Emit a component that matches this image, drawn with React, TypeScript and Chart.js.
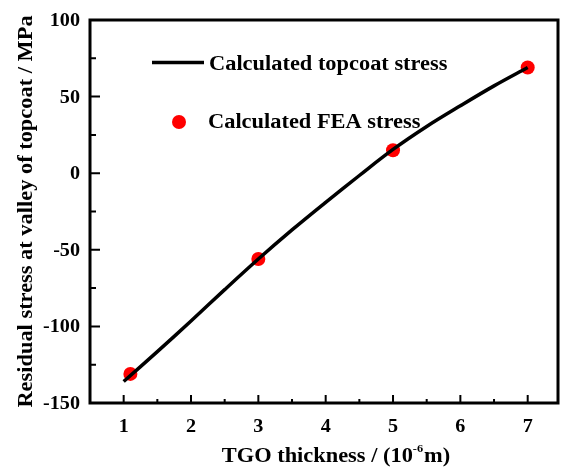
import React, { useEffect, useRef } from "react";
import { Chart, registerables } from "chart.js";

Chart.register(...registerables);

const curveX = [1, 1.5, 2, 2.5, 3, 3.5, 4, 4.5, 5, 5.5, 6, 6.5, 7];
const curveY = [-136, -116.5, -96.5, -76, -56, -37, -19, -1.5, 15.5, 30.5, 44, 57, 69];
const feaX = [1.1, 3, 5, 7];
const feaY = [-131, -56, 15, 69];
const xTicks = [1, 2, 3, 4, 5, 6, 7];
const yTicks = [-150, -100, -50, 0, 50, 100];
const xTickLabels = ["1", "2", "3", "4", "5", "6", "7"];
const yTickLabels = ["-150", "-100", "-50", "0", "50", "100"];
const seriesNames = ["Calculated topcoat stress", "Calculated FEA stress"];
const xTitleMain = "TGO thickness / (10";
const xTitleSup = "-6";
const xTitleEnd = "m)";
const yTitle = "Residual stress at valley of topcoat / MPa";

const FONT = '"Liberation Serif", "Times New Roman", serif';
const SX = 1.12;

function txt(ctx: CanvasRenderingContext2D, s: string, x: number, y: number, align: CanvasTextAlign, size: number, sx = SX) {
  ctx.save();
  ctx.translate(x, y);
  ctx.scale(sx, 1);
  ctx.font = `bold ${size}px ${FONT}`;
  ctx.textAlign = align;
  ctx.textBaseline = "alphabetic";
  ctx.fillStyle = "#000";
  ctx.fillText(s, 0, 0);
  ctx.restore();
}

function mids(arr: number[]) {
  const out: number[] = [];
  for (let i = 0; i < arr.length - 1; i++) out.push((arr[i] + arr[i + 1]) / 2);
  return out;
}

const decorPlugin = {
  id: "decor",
  afterDraw(chart: any) {
    const ctx: CanvasRenderingContext2D = chart.ctx;
    const { left, right, top, bottom } = chart.chartArea;
    const xs = chart.scales.x;
    const ys = chart.scales.y;
    ctx.save();
    ctx.strokeStyle = "#000";
    ctx.lineCap = "butt";
    // ticks
    ctx.lineWidth = 2;
    ctx.beginPath();
    xTicks.forEach((v) => {
      const px = xs.getPixelForValue(v);
      ctx.moveTo(px, bottom);
      ctx.lineTo(px, bottom - 8);
    });
    mids(xTicks).forEach((v) => {
      const px = xs.getPixelForValue(v);
      ctx.moveTo(px, bottom);
      ctx.lineTo(px, bottom - 4);
    });
    yTicks.forEach((v) => {
      const py = ys.getPixelForValue(v);
      ctx.moveTo(left, py);
      ctx.lineTo(left + 10, py);
    });
    mids(yTicks).forEach((v) => {
      const py = ys.getPixelForValue(v);
      ctx.moveTo(left, py);
      ctx.lineTo(left + 6, py);
    });
    ctx.stroke();
    // frame
    ctx.lineWidth = 3;
    ctx.strokeRect(left, top, right - left, bottom - top);

    // tick labels
    xTicks.forEach((v, i) => {
      txt(ctx, xTickLabels[i], xs.getPixelForValue(v), bottom + 29, "center", 18);
    });
    yTicks.forEach((v, i) => {
      txt(ctx, yTickLabels[i], left - 10, ys.getPixelForValue(v) + 6, "right", 18);
    });

    // x title
    const cx = (left + right) / 2 + 12;
    ctx.font = `bold 20px ${FONT}`;
    const w1 = ctx.measureText(xTitleMain).width * SX;
    ctx.font = `bold 11px ${FONT}`;
    const w2 = ctx.measureText(xTitleSup).width * SX;
    ctx.font = `bold 20px ${FONT}`;
    const w3 = ctx.measureText(xTitleEnd).width * SX;
    const total = w1 + w2 + w3 + 1;
    let sx0 = cx - total / 2;
    const base = bottom + 59;
    txt(ctx, xTitleMain, sx0, base, "left", 20);
    txt(ctx, xTitleSup, sx0 + w1, base - 10, "left", 11);
    txt(ctx, xTitleEnd, sx0 + w1 + w2 + 1, base, "left", 20);

    // y title
    ctx.save();
    ctx.translate(32, (top + bottom) / 2);
    ctx.rotate(-Math.PI / 2);
    txt(ctx, yTitle, 0, 0, "center", 20);
    ctx.restore();

    // legend
    const lx = left + 62;
    ctx.lineWidth = 3.5;
    ctx.beginPath();
    ctx.moveTo(lx, top + 42.5);
    ctx.lineTo(lx + 52, top + 42.5);
    ctx.stroke();
    txt(ctx, seriesNames[0], lx + 57, top + 50, "left", 20);
    ctx.fillStyle = "#ff0000";
    ctx.beginPath();
    ctx.arc(lx + 27, top + 102, 7, 0, Math.PI * 2);
    ctx.fill();
    txt(ctx, seriesNames[1], lx + 56, top + 108, "left", 20);
    ctx.restore();
  },
};

export default function App() {
  const ref = useRef<HTMLCanvasElement | null>(null);
  useEffect(() => {
    if (!ref.current) return;
    const chart = new Chart(ref.current, {
      type: "line",
      data: {
        datasets: [
          {
            label: seriesNames[0],
            data: curveX.map((x, i) => ({ x, y: curveY[i] })),
            borderColor: "#000",
            borderWidth: 3.5,
            pointRadius: 0,
            tension: 0.35,
            fill: false,
          },
          {
            label: seriesNames[1],
            data: feaX.map((x, i) => ({ x, y: feaY[i] })),
            showLine: false,
            pointRadius: 7,
            pointBackgroundColor: "#ff0000",
            pointBorderWidth: 0,
            borderColor: "#ff0000",
            backgroundColor: "#ff0000",
          },
        ],
      },
      options: {
        animation: false,
        responsive: true,
        maintainAspectRatio: false,
        layout: { padding: { top: 20, right: 5, left: 0, bottom: 0 } },
        plugins: { legend: { display: false }, tooltip: { enabled: false } },
        scales: {
          x: {
            type: "linear",
            min: 0.5,
            max: 7.45,
            grid: { display: false },
            border: { display: false },
            ticks: { display: false },
            afterBuildTicks: (s: any) => {
              s.ticks = xTicks.map((v) => ({ value: v }));
            },
            afterFit: (s: any) => {
              s.height = 66;
            },
          },
          y: {
            type: "linear",
            min: -150,
            max: 100,
            grid: { display: false },
            border: { display: false },
            ticks: { display: false },
            afterBuildTicks: (s: any) => {
              s.ticks = yTicks.map((v) => ({ value: v }));
            },
            afterFit: (s: any) => {
              s.width = 90;
            },
          },
        },
      },
      plugins: [decorPlugin],
    });
    return () => chart.destroy();
  }, []);
  return (
    <div style={{ position: "fixed", left: 0, top: 0, width: 565, height: 469, background: "#fff" }}>
      <canvas ref={ref} />
    </div>
  );
}
